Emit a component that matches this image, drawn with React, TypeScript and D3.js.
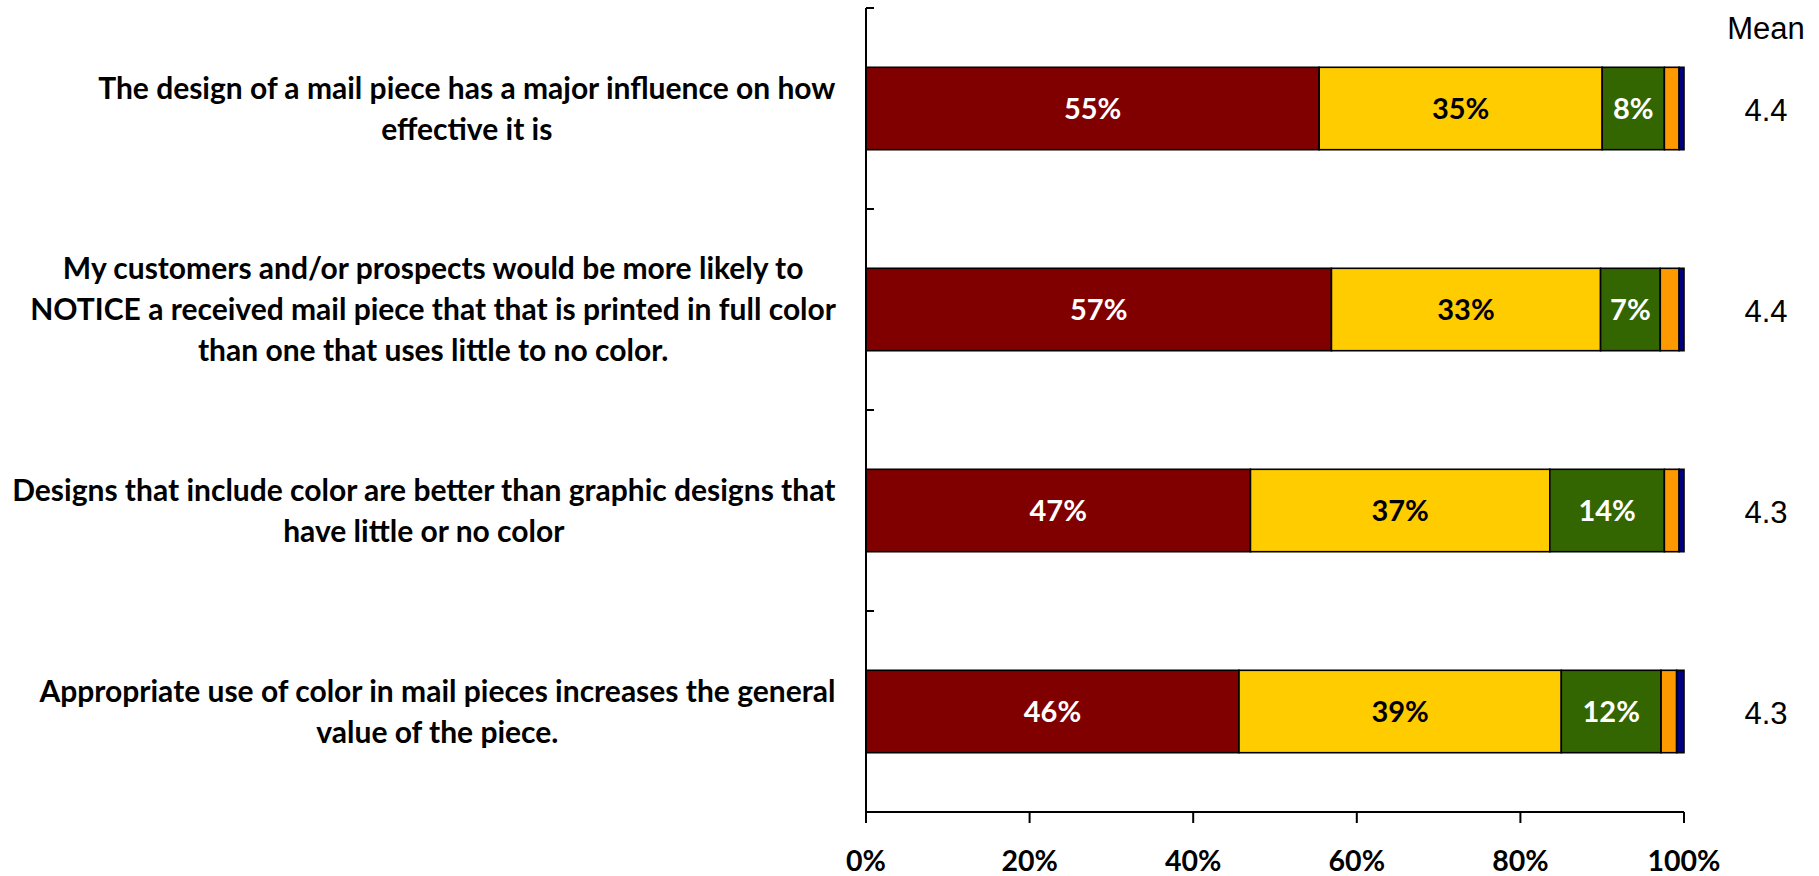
import React from 'react';
import * as d3 from 'd3';

// ---- data ----
const categoryLines: string[][] = [
  ['The design of a mail piece has a major influence on how', 'effective it is'],
  [
    'My customers and/or prospects would be more likely to',
    'NOTICE a received mail piece that that is printed in full color',
    'than one that uses little to no color.',
  ],
  ['Designs that include color are better than graphic designs that', 'have little or no color'],
  ['Appropriate use of color in mail pieces increases the general', 'value of the piece.'],
];
const stronglyAgree = [55.4, 56.9, 47.0, 45.6];
const agree = [34.6, 32.9, 36.6, 39.4];
const neutral = [7.6, 7.3, 14.0, 12.2];
const disagree = [1.8, 2.3, 1.8, 1.9];
const stronglyDisagree = [0.6, 0.6, 0.6, 0.9];
const means = ['4.4', '4.4', '4.3', '4.3'];
const xTicks = [0, 20, 40, 60, 80, 100];
const seriesNames = ['Strongly agree', 'Agree', 'Neutral', 'Disagree', 'Strongly disagree'];

// ---- styles / layout ----
const seriesColors = ['#800000', '#FFCC00', '#336600', '#FF9900', '#000080'];
const labelColors = ['#FFFFFF', '#000000', '#FFFFFF', null, null];
const W = 1819;
const H = 876;
const x0 = 866;
const x1 = 1684;
const yTop = 8;
const yBottom = 812;
const labelRight = 836;
const catFontSize = 30;
const boldFont = 'Lato, "Open Sans", sans-serif';
const meanFont = '"Liberation Sans", Arial, sans-serif';

let measureCtx: CanvasRenderingContext2D | null = null;
function textWidth(s: string, font: string): number {
  if (!measureCtx && typeof document !== 'undefined') {
    measureCtx = document.createElement('canvas').getContext('2d');
  }
  if (!measureCtx) return s.length * catFontSize * 0.45;
  measureCtx.font = font;
  return measureCtx.measureText(s).width;
}

export default function App() {
  const seriesValues = [stronglyAgree, agree, neutral, disagree, stronglyDisagree];
  const rows = categoryLines.map((_, i) => {
    const r: any = { idx: i };
    seriesNames.forEach((s, k) => (r[s] = seriesValues[k][i]));
    return r;
  });
  const stacked = d3.stack<any>().keys(seriesNames)(rows);

  const x = d3.scaleLinear().domain([0, 100]).range([x0, x1]);
  const y = d3
    .scaleBand<number>()
    .domain(categoryLines.map((_, i) => i))
    .range([yTop, yBottom])
    .paddingInner(0.59)
    .paddingOuter(0.295);
  const step = y.step();
  const lineGap = 41;
  const catFont = `bold ${catFontSize}px Lato`;

  return (
    <svg
      width={W}
      height={H}
      style={{ position: 'absolute', left: 0, top: 0, display: 'block', background: '#fff' }}
    >
      {/* bars */}
      {stacked.map((layer, k) => (
        <g key={layer.key}>
          {layer.map((d, i) => (
            <rect
              key={i}
              x={x(d[0])}
              y={y(i)!}
              width={x(d[1]) - x(d[0])}
              height={y.bandwidth()}
              fill={seriesColors[k]}
              stroke="#000"
              strokeWidth={1.6}
            />
          ))}
        </g>
      ))}
      {/* segment labels */}
      {stacked.map((layer, k) =>
        labelColors[k]
          ? layer.map((d, i) => (
              <text
                key={`${k}-${i}`}
                x={(x(d[0]) + x(d[1])) / 2}
                y={y(i)! + y.bandwidth() / 2}
                dy="0.36em"
                textAnchor="middle"
                fontFamily={boldFont}
                fontWeight={700}
                fontSize={29}
                fill={labelColors[k]!}
              >
                {Math.round(d[1] - d[0])}%
              </text>
            ))
          : null
      )}
      {/* category axis */}
      <line x1={x0} x2={x0} y1={yTop} y2={yBottom + 11} stroke="#000" strokeWidth={2} />
      {d3.range(categoryLines.length).map((i) => (
        <line
          key={i}
          x1={x0}
          x2={x0 + 8}
          y1={yTop + i * step}
          y2={yTop + i * step}
          stroke="#000"
          strokeWidth={2}
        />
      ))}
      {/* value axis */}
      <line x1={x0} x2={x1} y1={yBottom} y2={yBottom} stroke="#000" strokeWidth={2} />
      {xTicks.map((t) => (
        <g key={t}>
          <line x1={x(t)} x2={x(t)} y1={yBottom} y2={yBottom + 11} stroke="#000" strokeWidth={2} />
          <text
            x={x(t)}
            y={871}
            textAnchor="middle"
            fontFamily={boldFont}
            fontWeight={700}
            fontSize={28.5}
            fill="#000"
          >
            {t}%
          </text>
        </g>
      ))}
      {/* category labels: block right-aligned to axis, lines centred in block */}
      {categoryLines.map((lines, i) => {
        const cy = y(i)! + y.bandwidth() / 2;
        const maxW = d3.max(lines, (ln) => textWidth(ln, catFont)) || 0;
        const cx = labelRight - maxW / 2;
        return lines.map((ln, j) => (
          <text
            key={`${i}-${j}`}
            x={cx}
            y={cy + (j - (lines.length - 1) / 2) * lineGap}
            dy="0.36em"
            textAnchor="middle"
            fontFamily={boldFont}
            fontWeight={700}
            fontSize={catFontSize}
            fill="#000"
          >
            {ln}
          </text>
        ));
      })}
      {/* mean column */}
      <text x={1766} y={28} dy="0.36em" textAnchor="middle" fontFamily={meanFont} fontSize={31} fill="#000">
        Mean
      </text>
      {means.map((m, i) => (
        <text
          key={i}
          x={1766}
          y={y(i)! + y.bandwidth() / 2 + 1}
          dy="0.36em"
          textAnchor="middle"
          fontFamily={meanFont}
          fontSize={31}
          fill="#000"
        >
          {m}
        </text>
      ))}
    </svg>
  );
}
